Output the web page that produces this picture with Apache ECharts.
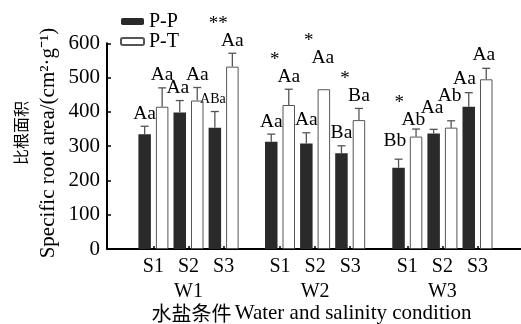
<!DOCTYPE html>
<html><head><meta charset="utf-8">
<script src="https://cdn.jsdelivr.net/npm/echarts@6/dist/echarts.min.js"></script>
<style>html,body{margin:0;padding:0;background:#fff}#c{width:521px;height:324px}</style>
</head><body><div id="c"></div>
<script>
// ---- data ----
const categories = ['S1', 'S2', 'S3'];
const groups = ['W1', 'W2', 'W3'];
const seriesNames = ['P-P', 'P-T'];
const ppMean = [[335, 398, 354], [313, 308, 279], [237, 337, 415]];
const ppErr  = [[23, 35, 47], [22, 31, 22], [25, 12, 41]];
const ptMean = [[415, 433, 532], [420, 466, 376], [328, 354, 495]];
const ptErr  = [[55, 38, 39], [46, 0, 34], [22, 20, 32]];
const ppLetters = [['Aa', 'Aa', 'ABa'], ['Aa', 'Aa', 'Ba'], ['Bb', 'Aa', 'Aa']];
const ptLetters = [['Aa', 'Aa', 'Aa'], ['Aa', 'Aa', 'Ba'], ['Ab', 'Ab', 'Aa']];
const ppStars = [['', '', ''], ['', '', ''], ['', '', '']];
const ptStars = [['', '', '**'], ['*', '*', '*'], ['*', '', '']];
const yMin = 0, yMax = 600, yInterval = 100;

// ---- styling ----
const FONT = '"Liberation Serif", "Times New Roman", serif';
const CJK = '"Noto Sans CJK SC"';
const BAR_W = 12.5, BAR_GAP = 0.4;
const gridTop = 43.3, gridH = 205.7;
const groupLeft = [135.85, 262.45, 389.75], groupW = 105.3;
// label nudges in px [dx, dy] keyed by group-cat-kind
const nudge = {
  '0-1-0': [-2, 0], '0-2-0': [-2, 0],
  '1-1-1': [-1, -18.5],
  '2-0-0': [-3.6, -5.5], '2-0-1': [-2.7, 3.5],
  '2-1-0': [-1.6, -8.5], '2-1-1': [-1.5, -12.5],
  '2-2-0': [-4.3, -1], '2-2-1': [-2.5, -1]
};

const chart = echarts.init(document.getElementById('c'), null, {renderer: 'canvas'});

const grid = [{left: 107, top: gridTop, width: 414, height: gridH}];
const xAxis = [{gridIndex: 0, type: 'value', min: 0, max: 1, axisLine: {show: true, onZero: false, lineStyle: {color: '#000', width: 2}},
  axisTick: {show: false}, axisLabel: {show: false}, splitLine: {show: false}}];
const yAxis = [{gridIndex: 0, type: 'value', min: yMin, max: yMax, interval: yInterval,
  axisLine: {show: true, lineStyle: {color: '#000', width: 2}},
  axisTick: {show: true, inside: true, length: 4, lineStyle: {color: '#000', width: 1.5}},
  axisLabel: {color: '#000', fontFamily: FONT, fontSize: 21, margin: 7},
  splitLine: {show: false}}];
const series = [];

groups.forEach((g, gi) => {
  const idx = gi + 1;
  grid.push({left: groupLeft[gi], top: gridTop, width: groupW, height: gridH});
  xAxis.push({gridIndex: idx, type: 'category', data: categories, boundaryGap: true,
    axisLine: {show: false},
    axisTick: {show: true, inside: true, alignWithLabel: true, length: 3, lineStyle: {color: '#000', width: 1.5}},
    axisLabel: {color: '#000', fontFamily: FONT, fontSize: 20, margin: 8},
    name: g, nameLocation: 'middle', nameGap: 30,
    nameTextStyle: {color: '#000', fontFamily: FONT, fontSize: 20}});
  yAxis.push({gridIndex: idx, type: 'value', min: yMin, max: yMax, show: false});
  series.push({name: 'P-P', type: 'bar', xAxisIndex: idx, yAxisIndex: idx, data: ppMean[gi],
    barWidth: BAR_W, barGap: (BAR_GAP * 100) + '%', itemStyle: {color: '#2a2a2a'}, animation: false});
  series.push({name: 'P-T', type: 'bar', xAxisIndex: idx, yAxisIndex: idx, data: ptMean[gi],
    barWidth: BAR_W, barGap: (BAR_GAP * 100) + '%', itemStyle: {color: '#fff', borderColor: '#555', borderWidth: 1}, animation: false});
  const cdata = [];
  categories.forEach((c, ci) => { cdata.push([ci, 0]); cdata.push([ci, 1]); });
  series.push({name: 'err' + gi, type: 'custom', xAxisIndex: idx, yAxisIndex: idx, data: cdata, clip: false, z: 5, animation: false,
    renderItem: function (params, api) {
      const ci = api.value(0), kind = api.value(1);
      const mean = kind ? ptMean[gi][ci] : ppMean[gi][ci];
      const err = kind ? ptErr[gi][ci] : ppErr[gi][ci];
      const letter = kind ? ptLetters[gi][ci] : ppLetters[gi][ci];
      const star = kind ? ptStars[gi][ci] : ppStars[gi][ci];
      const off = (BAR_W + BAR_W * BAR_GAP) / 2;
      const cx = api.coord([ci, 0])[0] + (kind ? off : -off);
      const yTop = api.coord([ci, mean])[1];
      const yErr = api.coord([ci, mean + err])[1];
      const children = [];
      if (err > 0) {
        children.push({type: 'line', shape: {x1: cx, y1: yTop, x2: cx, y2: yErr}, style: {stroke: '#555', lineWidth: 1.3}});
        children.push({type: 'line', shape: {x1: cx - 4, y1: yErr, x2: cx + 4, y2: yErr}, style: {stroke: '#555', lineWidth: 1.3}});
      }
      const nd = nudge[gi + '-' + ci + '-' + kind] || [0, 0];
      const lx = cx + nd[0], ly = yErr - 12.5 + nd[1];
      children.push({type: 'text', x: lx, y: ly, style: {text: letter, fill: '#000',
        font: (letter.length > 2 ? 14 : 19.5) + 'px ' + FONT, textAlign: 'center', textVerticalAlign: 'middle'}});
      if (star) {
        children.push({type: 'text', x: lx - 14, y: ly - 17, style: {text: star, fill: '#000',
          font: '19px ' + FONT, textAlign: 'center', textVerticalAlign: 'middle'}});
      }
      return {type: 'group', children: children};
    }});
});

chart.setOption({
  animation: false,
  backgroundColor: '#fff',
  grid: grid, xAxis: xAxis, yAxis: yAxis, series: series,
  legend: {data: seriesNames, orient: 'vertical', left: 120, top: 11.5, padding: 0,
    itemWidth: 23, itemHeight: 7, itemGap: 0,
    textStyle: {color: '#000', fontFamily: FONT, fontSize: 20, lineHeight: 17}},
  graphic: [
    {type: 'text', x: 20.5, y: 133, rotation: Math.PI / 2, style: {text: '比根面积', fill: '#000',
      font: '16px ' + CJK, textAlign: 'center', textVerticalAlign: 'middle'}},
    {type: 'text', x: 48, y: 143, rotation: Math.PI / 2, style: {text: 'Specific root area/(cm²·g⁻¹)', fill: '#000',
      font: '21px ' + FONT, textAlign: 'center', textVerticalAlign: 'middle'}},
    {type: 'text', x: 311.5, y: 313, style: {text: '{cn|水盐条件} {en|Water and salinity condition}', fill: '#000',
      textAlign: 'center', textVerticalAlign: 'middle',
      rich: {cn: {fontFamily: CJK, fontSize: 20, fill: '#000'}, en: {fontFamily: FONT, fontSize: 21, fill: '#000'}}}}
  ]
});
</script></body></html>
